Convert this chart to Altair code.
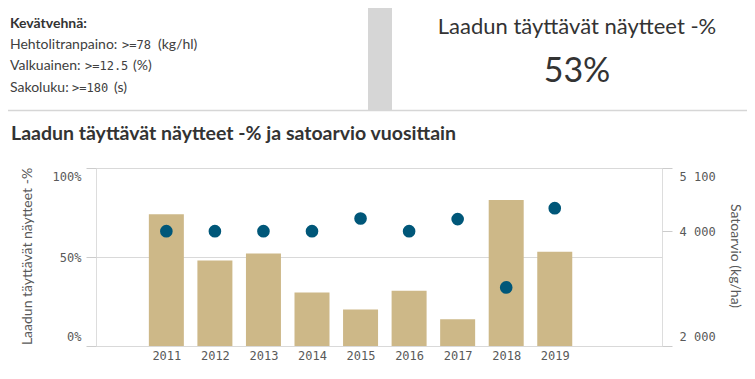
import altair as alt
import pandas as pd

# ---- data ----
years = [2011, 2012, 2013, 2014, 2015, 2016, 2017, 2018, 2019]
pct_ok = [0.74, 0.48, 0.52, 0.30, 0.205, 0.31, 0.15, 0.82, 0.53]
yield_kg = [4000, 4000, 4000, 4000, 4220, 4000, 4210, 3020, 4400]

info_title = "Kevätvehnä:"
info_labels = ["Hehtolitranpaino:", "Valkuainen:", "Sakoluku:"]
info_values = [">=78", ">=12.5", ">=180"]
info_units = ["(kg/hl)", "(%)", "(s)"]
kpi_title = "Laadun täyttävät näytteet -%"
kpi_value = "53%"
chart_title = "Laadun täyttävät näytteet -% ja satoarvio vuosittain"
left_title = "Laadun täyttävät näytteet -%"
right_title = "Satoarvio (kg/ha)"
pct_ticks = [0, 0.5, 1]
yield_ticks = [2000, 4000, 5100]

df = pd.DataFrame({"year": years, "pct": pct_ok, "yield": yield_kg})

SANS = "Lato"
MONO = "DejaVu Sans Mono"
BAR = "#CDB888"
DOT = "#005779"

xscale = alt.Scale(domain=[2009.654, 2021.106], nice=False, zero=False)
xaxis = alt.Axis(values=years, format="d", labelFont=MONO, labelFontSize=12,
                 labelColor="#595959", ticks=False, tickSize=0, domain=False,
                 grid=False, title=None, labelPadding=4)

bars = alt.Chart(df).mark_bar(size=35, color=BAR).encode(
    x=alt.X("year:Q", scale=xscale, axis=xaxis),
    y=alt.Y("pct:Q", scale=alt.Scale(domain=[0, 1], nice=False),
            axis=alt.Axis(orient="left", values=pct_ticks, format=".0%", grid=True,
                          gridColor="#d9d9d9", tickColor="#cccccc", tickSize=10,
                          domain=False, labelFlush=True, labelFlushOffset=-3,
                          title=None, labelPadding=5,
                          labelFont=MONO, labelFontSize=12, labelColor="#595959")),
)

dots = alt.Chart(df).mark_circle(size=160, color=DOT, opacity=1).encode(
    x=alt.X("year:Q", scale=xscale, axis=xaxis),
    y=alt.Y("yield:Q", scale=alt.Scale(domain=[2000, 5100], nice=False, zero=False),
            axis=alt.Axis(orient="right", values=yield_ticks, grid=False,
                          labelExpr="replace(format(datum.value, ',d'), ',', ' ')",
                          tickColor="#cccccc", tickSize=10, domain=False,
                          labelFlush=True, labelFlushOffset=-3, title=None,
                          labelPadding=7,
                          labelFont=MONO, labelFontSize=12, labelColor="#595959")),
)


def txt(s, x, y, size, color="#404040", weight="normal", font=SANS, align="left", angle=0):
    return alt.Chart(pd.DataFrame({"t": [s]})).mark_text(
        align=align, baseline="middle", fontSize=size, color=color,
        fontWeight=weight, font=font, angle=angle,
    ).encode(x=alt.value(x), y=alt.value(y), text="t:N")


one = pd.DataFrame({"a": [0]})
gray_block = alt.Chart(one).mark_rect(color="#d6d6d6").encode(
    x=alt.value(272), x2=alt.value(296), y=alt.value(-160), y2=alt.value(-58))
hline = alt.Chart(one).mark_rule(color="#d6d6d6", strokeWidth=1.5).encode(
    x=alt.value(-88), x2=alt.value(659), y=alt.value(-57.5))

line_y = [-123, -102, -80]
value_x = [26, -11, -24]
unit_x = [62, 37, 18]

annots = [gray_block, hline,
          txt(info_title, -86, -144, 14, color="#333333", weight="bold")]
for i in range(3):
    annots.append(txt(info_labels[i], -86, line_y[i], 14))
    annots.append(txt(info_values[i], value_x[i], line_y[i], 12, font=MONO))
    annots.append(txt(info_units[i], unit_x[i], line_y[i], 14))

annots += [
    txt(kpi_title, 481, -141, 22, color="#333333", align="center"),
    txt(kpi_value, 481, -96, 34, color="#333333", align="center"),
    txt(chart_title, -85, -34, 19.5, color="#333333", weight="bold"),
    txt(left_title, -68, 88.5, 14, color="#595959", align="center", angle=270),
    txt(right_title, 639, 88, 14, color="#595959", align="center", angle=90),
]

chart = alt.layer(bars, dots, *annots).resolve_scale(y="independent").properties(
    width=566, height=178,
    autosize=alt.AutoSizeParams(type="none"),
    padding={"left": 88, "top": 160, "right": 85, "bottom": 25},
).configure_view(stroke="#cccccc").configure(background="white")

chart.save("out.html", embed_options={"renderer": "svg", "actions": False})
